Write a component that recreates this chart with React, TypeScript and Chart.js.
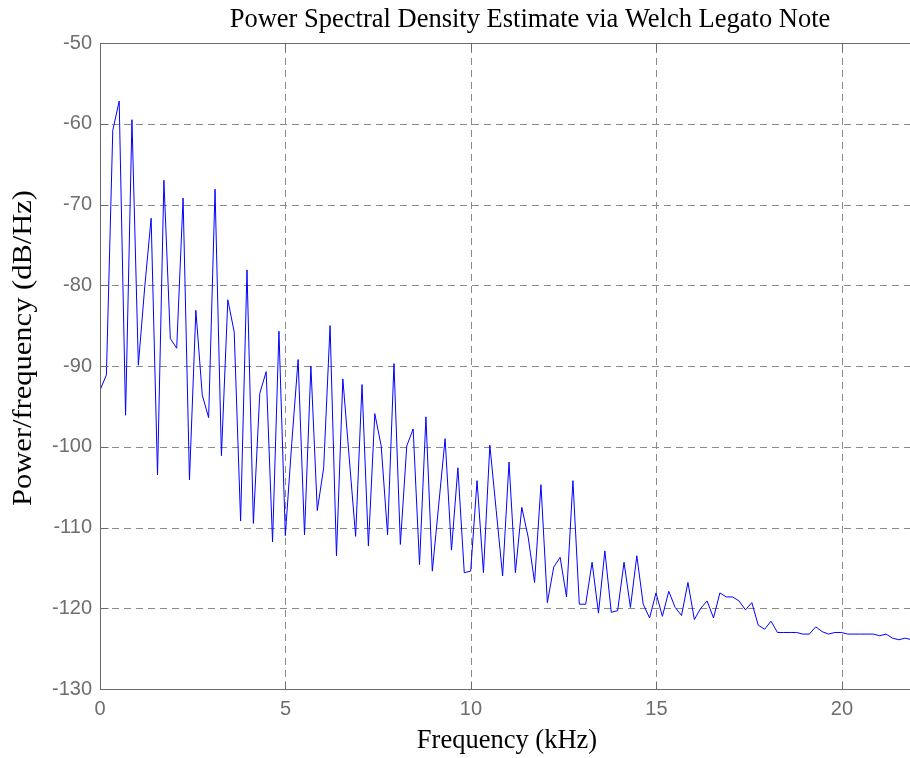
import React, { useEffect, useRef } from "react";
import { Chart, registerables } from "chart.js";

Chart.register(...registerables);

const TITLE = "Power Spectral Density Estimate via Welch Legato Note";
const X_LABEL = "Frequency (kHz)";
const Y_LABEL = "Power/frequency (dB/Hz)";

const X_TICKS = [0, 5, 10, 15, 20];
const Y_TICKS = [-130, -120, -110, -100, -90, -80, -70, -60, -50];
const X_MIN = 0;
const X_MAX = 22.05;
const Y_MIN = -130;
const Y_MAX = -50;

// frequency bin width (kHz) of the Welch estimate
const BIN_KHZ = 44.1 / 256;

const PSD_DB = [
  -93.0, -91.1, -60.8, -57.2, -96.1, -59.5, -89.9, -80.2, -71.7, -103.5,
  -67.0, -86.6, -87.8, -69.2, -104.1, -83.1, -93.6, -96.4, -68.1, -101.1,
  -81.8, -85.8, -109.2, -78.1, -109.5, -93.4, -90.7, -111.8, -85.7, -111.0,
  -99.6, -89.2, -110.9, -90.0, -107.9, -102.6, -85.0, -113.5, -91.6, -101.4,
  -111.1, -92.3, -112.3, -95.9, -99.9, -110.9, -89.7, -112.1, -99.9, -97.8,
  -114.6, -96.3, -115.4, -107.2, -99.0, -112.8, -102.6, -115.6, -115.4, -104.2,
  -115.6, -99.8, -107.9, -116.0, -101.9, -115.6, -107.5, -111.2, -116.8, -104.7,
  -119.3, -114.9, -113.7, -118.6, -104.2, -119.5, -119.5, -114.3, -120.6, -112.9,
  -120.5, -120.3, -114.3, -119.9, -113.5, -119.5, -121.2, -118.1, -121.0, -117.9,
  -119.9, -120.9, -116.8, -121.4, -120.0, -119.1, -121.2, -118.1, -118.6, -118.6,
  -119.1, -120.2, -119.3, -122.1, -122.6, -121.6, -123.0, -123.0, -123.0, -123.0,
  -123.2, -123.2, -122.3, -122.9, -123.2, -123.0, -123.0, -123.2, -123.2, -123.2,
  -123.2, -123.2, -123.4, -123.2, -123.7, -123.9, -123.7, -123.9,
];

const AXIS_COLOR = "#6a6a6a";
const GRID_COLOR = "#8a8a8a";
const TICK_TEXT = "#6e6e6e";
const SANS = "'Liberation Sans', Arial, sans-serif";
const SERIF = "'Liberation Serif', 'Times New Roman', serif";

const decorPlugin = {
  id: "decor",
  beforeDatasetsDraw(chart: any) {
    const { ctx, chartArea: a, scales } = chart;
    const xs = scales.x;
    const ys = scales.y;
    ctx.save();
    ctx.strokeStyle = GRID_COLOR;
    ctx.lineWidth = 1;
    ctx.setLineDash([7, 5]);
    for (const v of X_TICKS) {
      const px = Math.round(xs.getPixelForValue(v)) + 0.5;
      ctx.beginPath();
      ctx.moveTo(px, a.bottom);
      ctx.lineTo(px, a.top);
      ctx.stroke();
    }
    for (const v of Y_TICKS) {
      const py = Math.round(ys.getPixelForValue(v)) + 0.5;
      ctx.beginPath();
      ctx.moveTo(a.left, py);
      ctx.lineTo(a.right, py);
      ctx.stroke();
    }
    ctx.restore();
  },
  afterDatasetsDraw(chart: any) {
    const { ctx, chartArea: a, scales } = chart;
    const xs = scales.x;
    const ys = scales.y;
    ctx.save();
    ctx.setLineDash([]);
    ctx.strokeStyle = AXIS_COLOR;
    ctx.lineWidth = 1;
    const L = Math.round(a.left) + 0.5;
    const R = Math.round(a.right) - 0.5;
    const T = Math.round(a.top) + 0.5;
    const B = Math.round(a.bottom) + 0.5;
    ctx.strokeRect(L, T, R - L, B - T);
    const tl = 8;
    for (const v of X_TICKS) {
      const px = Math.round(xs.getPixelForValue(v)) + 0.5;
      ctx.beginPath();
      ctx.moveTo(px, B);
      ctx.lineTo(px, B - tl);
      ctx.moveTo(px, T);
      ctx.lineTo(px, T + tl);
      ctx.stroke();
    }
    for (const v of Y_TICKS) {
      const py = Math.round(ys.getPixelForValue(v)) + 0.5;
      ctx.beginPath();
      ctx.moveTo(L, py);
      ctx.lineTo(L + tl, py);
      ctx.moveTo(R, py);
      ctx.lineTo(R - tl, py);
      ctx.stroke();
    }
    // texts
    ctx.fillStyle = "#000";
    ctx.font = `26.5px ${SERIF}`;
    ctx.textAlign = "center";
    ctx.textBaseline = "alphabetic";
    ctx.fillText(TITLE, 530, 27);
    ctx.fillText(X_LABEL, 507, 748);
    const w = ctx.measureText(Y_LABEL).width;
    ctx.translate(31, 348);
    ctx.rotate(-Math.PI / 2);
    ctx.scale(316 / w, 1);
    ctx.fillText(Y_LABEL, 0, 0);
    ctx.restore();
  },
};

export default function App() {
  const ref = useRef<HTMLCanvasElement | null>(null);

  useEffect(() => {
    const canvas = ref.current;
    if (!canvas) return;
    const points = PSD_DB.map((v, i) => ({ x: i * BIN_KHZ, y: v }));
    const chart = new Chart(canvas, {
      type: "line",
      data: {
        datasets: [
          {
            data: points,
            borderColor: "#0000ff",
            borderWidth: 1,
            pointRadius: 0,
            tension: 0,
            fill: false,
          },
        ],
      },
      options: {
        animation: false,
        responsive: false,
        devicePixelRatio: 1,
        layout: { padding: { top: 43, left: 0, right: 0, bottom: 0 } },
        plugins: {
          legend: { display: false },
          title: { display: false },
          tooltip: { enabled: false },
        },
        scales: {
          x: {
            type: "linear",
            min: X_MIN,
            max: X_MAX,
            grid: { display: false, drawTicks: false },
            border: { display: false },
            afterBuildTicks: (s: any) => {
              s.ticks = X_TICKS.map((v) => ({ value: v }));
            },
            afterFit: (s: any) => {
              s.height = 69;
            },
            ticks: {
              color: TICK_TEXT,
              font: { family: SANS, size: 20 },
              padding: 8,
              maxRotation: 0,
              autoSkip: false,
            },
          },
          y: {
            type: "linear",
            min: Y_MIN,
            max: Y_MAX,
            grid: { display: false, drawTicks: false },
            border: { display: false },
            afterBuildTicks: (s: any) => {
              s.ticks = Y_TICKS.map((v) => ({ value: v }));
            },
            afterFit: (s: any) => {
              s.width = 100;
            },
            ticks: {
              color: TICK_TEXT,
              font: { family: SANS, size: 20 },
              padding: 8,
              autoSkip: false,
            },
          },
        },
      },
      plugins: [decorPlugin],
    });
    return () => chart.destroy();
  }, []);

  return (
    <div
      style={{
        position: "fixed",
        left: 0,
        top: 0,
        width: 910,
        height: 758,
        overflow: "hidden",
        background: "#fff",
      }}
    >
      <canvas ref={ref} width={918} height={758} style={{ display: "block" }} />
    </div>
  );
}
